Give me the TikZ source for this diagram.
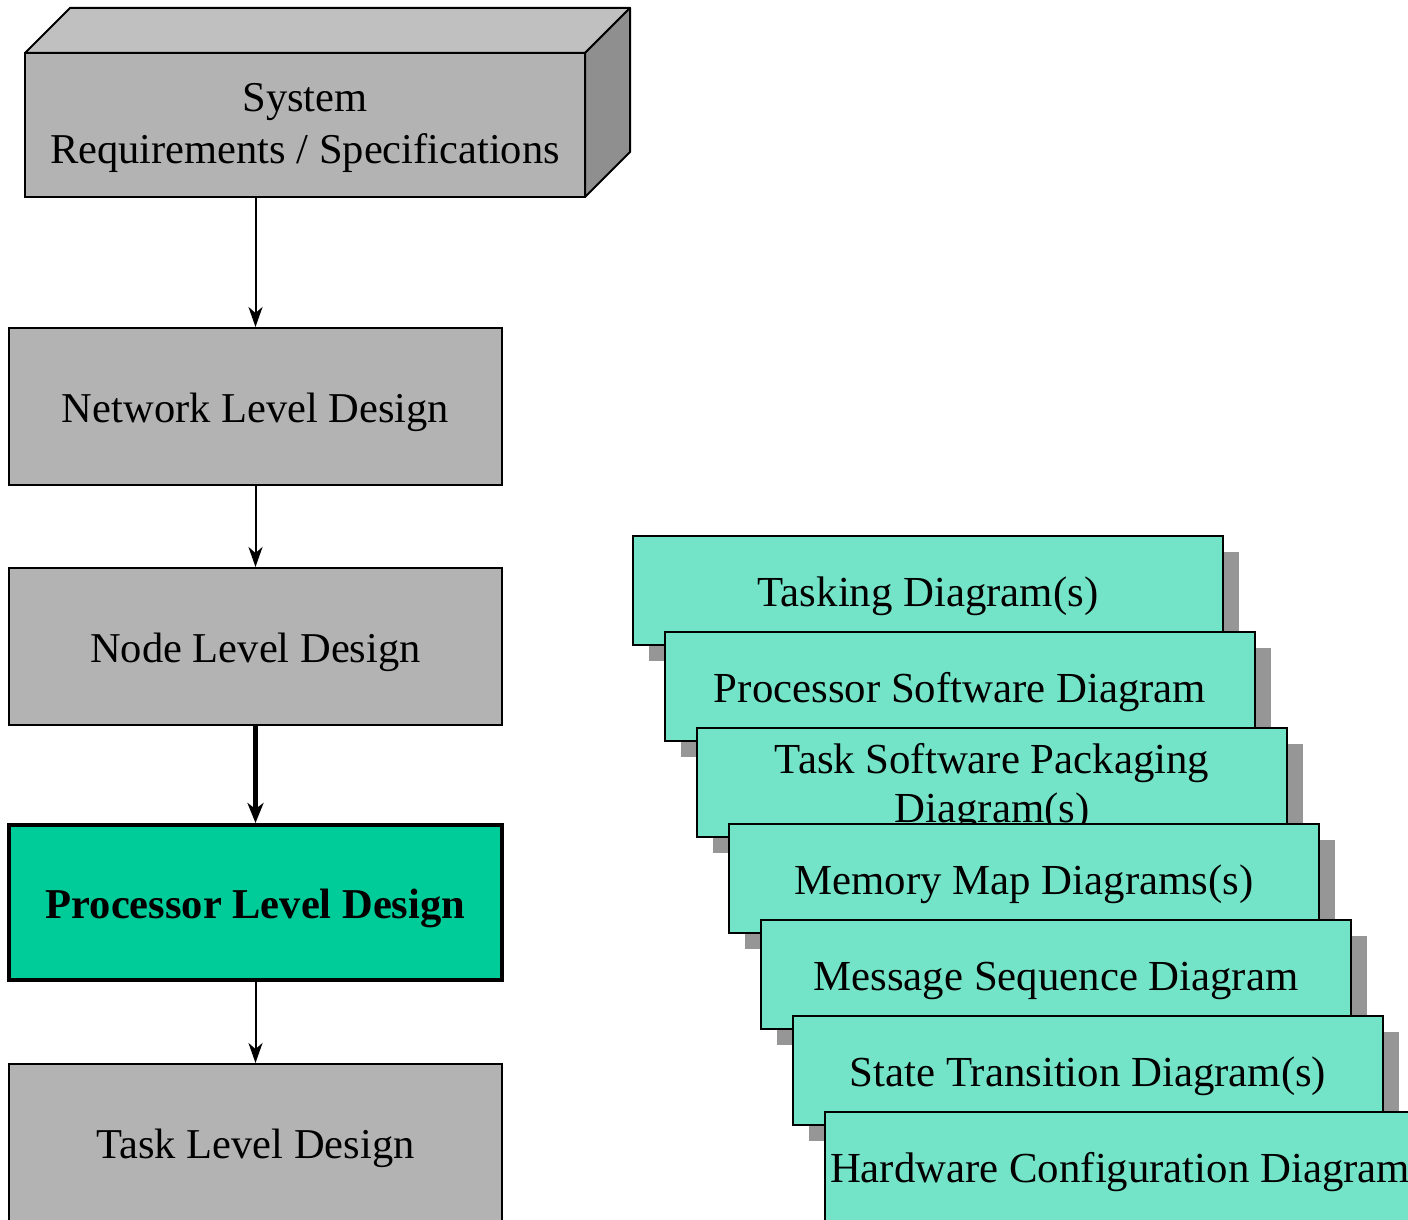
\documentclass[tikz,border=0pt]{standalone}
\usepackage{fontspec}
\setmainfont{Liberation Serif}
\usetikzlibrary{arrows.meta,shadows}
\definecolor{boxgray}{RGB}{179,179,179}
\definecolor{topgray}{RGB}{192,192,192}
\definecolor{sidegray}{RGB}{143,143,143}
\definecolor{procgreen}{RGB}{0,204,153}
\definecolor{paleteal}{RGB}{116,228,200}
\definecolor{shadowgray}{RGB}{150,150,150}
\tikzset{
 lvl/.style={draw=black, line width=1pt, fill=boxgray, minimum width=246.5pt, minimum height=78.5pt, inner sep=2pt, text height=20.5pt, text depth=4.6pt, font=\fontsize{21.25}{25}\selectfont},
 proc/.style={lvl, fill=procgreen, line width=2pt, minimum height=77.5pt, font=\fontsize{21.25}{25}\selectfont\bfseries},
 docbox/.style={draw=black, line width=1pt, fill=paleteal, minimum width=295pt, minimum height=54.5pt, inner sep=2pt, align=center, text height=20.5pt, text depth=4.6pt, font=\fontsize{21.4}{24.5}\selectfont, drop shadow={shadow xshift=8pt, shadow yshift=-8pt, fill=shadowgray, opacity=1}},
 arr/.style={line width=1pt, -{Stealth[length=10pt,width=7pt,inset=3pt]}},
 thickarr/.style={line width=2.5pt, -{Stealth[length=10pt,width=8pt,inset=3pt]}},
}
\begin{document}
\begin{tikzpicture}[x=0.5pt,y=-0.5pt]
\useasboundingbox (0,0) rectangle (1408,1220);
\clip (0,0) rectangle (1408,1220);
% system 3D box
\node[lvl, minimum width=280pt, minimum height=72pt, align=center, outer sep=0pt, text height=43pt, text depth=4.6pt, font=\fontsize{21.25}{26}\selectfont] (sys) at (305,125) {System\\Requirements / Specifications};
\filldraw[fill=topgray, line width=1pt, line join=round] (sys.north west) -- ++(45,-45) -- ++(560,0) -- (sys.north east) -- cycle;
\filldraw[fill=sidegray, line width=1pt, line join=round] (sys.north east) -- ++(45,-45) -- ++(0,144) -- (sys.south east) -- cycle;
% level boxes
\node[lvl] (net) at (255.5,406.5) {Network Level Design};
\node[lvl] (nod) at (255.5,646.5) {Node Level Design};
\node[proc] (proc) at (255.5,902.5) {Processor Level Design};
\node[lvl] (task) at (255.5,1142.5) {Task Level Design};
% arrows
\draw[arr] (sys.south -| net.north) -- (net.north);
\draw[arr] (net.south) -- (nod.north);
\draw[thickarr] (nod.south) -- (proc.north);
\draw[arr] (proc.south) -- (task.north);
% document stack
\foreach \i/\t/\h in {0/{Tasking Diagram(s)}/20.5pt,1/{Processor Software Diagram}/20.5pt,2/{Task Software Packaging\\Diagram(s)}/44.2pt,3/{Memory Map Diagrams(s)}/20.5pt,4/{Message Sequence Diagram}/20.5pt,5/{State Transition Diagram(s)}/20.5pt,6/{Hardware Configuration Diagram}/20.5pt}{
  \node[docbox, text height=\h] (doc\i) at (928+32*\i,590.5+96*\i) {\t};
}
\end{tikzpicture}
\end{document}
